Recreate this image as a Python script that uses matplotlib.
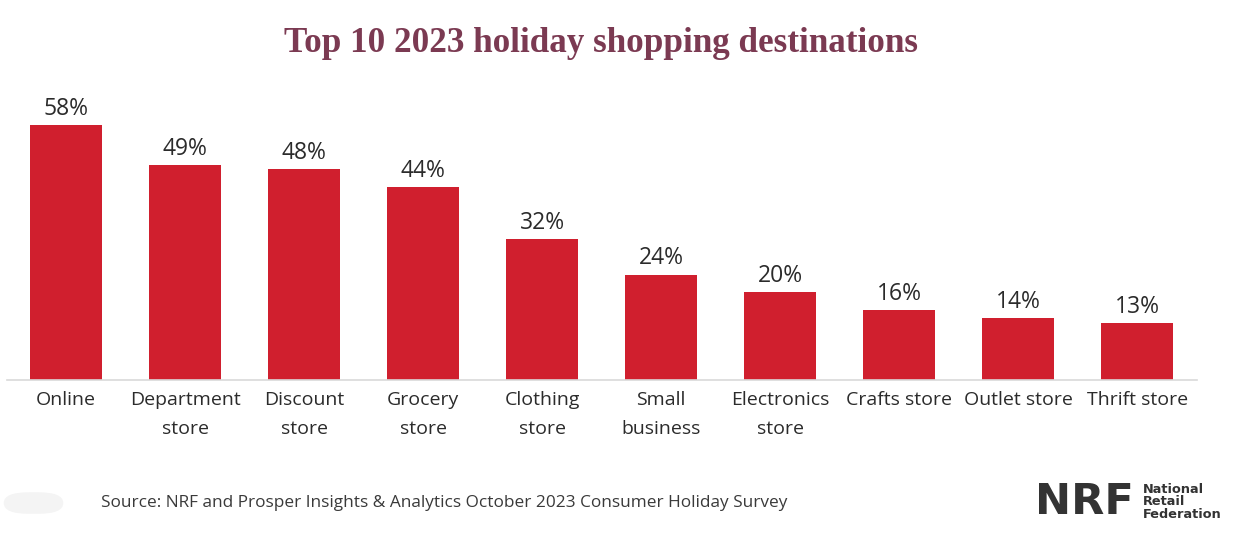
import matplotlib.pyplot as plt
from matplotlib.patches import FancyBboxPatch

categories = ["Online", "Department\nstore", "Discount\nstore", "Grocery\nstore",
              "Clothing\nstore", "Small\nbusiness", "Electronics\nstore",
              "Crafts store", "Outlet store", "Thrift store"]
shares = [58, 49, 48, 44, 32, 24, 20, 16, 14, 13]

bar_color = "#d01f2e"
text_color = "#2b2b2b"

fig = plt.figure(figsize=(12.41, 5.38), dpi=100)
fig.patch.set_facecolor("white")

ax = fig.add_axes([0.00524, 0.2937, 0.959, 0.539])
x = list(range(len(categories)))
bars = ax.bar(x, shares, width=0.605, color=bar_color, zorder=2)
ax.set_xlim(-0.5, len(categories) - 0.5)
ax.set_ylim(0, 66)

for b, v in zip(bars, shares):
    ax.annotate(f"{v}%", (b.get_x() + b.get_width() / 2, v),
                xytext=(0, 3), textcoords="offset points",
                ha="center", va="bottom", fontsize=16.5, color=text_color,
                family="Open Sans")

ax.set_xticks(x)
ax.set_xticklabels(categories, fontsize=14, color=text_color, family="Open Sans",
                   linespacing=1.75)
ax.tick_params(axis="x", length=0, pad=8)
ax.set_yticks([])
for s in ["top", "right", "left"]:
    ax.spines[s].set_visible(False)
ax.spines["bottom"].set_color("#d9d9d9")
ax.spines["bottom"].set_linewidth(1.2)

fig.text(0.484, 0.92, "Top 10 2023 holiday shopping destinations",
         ha="center", va="center", fontsize=25.3, fontweight="bold",
         color="#7b3a52", family="Liberation Serif")

fig.text(0.081, 0.065, "Source: NRF and Prosper Insights & Analytics October 2023 Consumer Holiday Survey",
         ha="left", va="center", fontsize=12.4, color="#3a3a3a", family="Open Sans")

# faint share button
fig.patches.append(FancyBboxPatch((0.003, 0.045), 0.048, 0.04,
                                  boxstyle="round,pad=0,rounding_size=0.02",
                                  transform=fig.transFigure, facecolor="#f4f4f4",
                                  edgecolor="none"))

# NRF logo
fig.text(0.834, 0.067, "NRF", ha="left", va="center", fontsize=31,
         fontweight="black", color="#333333", family="DejaVu Sans")
fig.text(0.921, 0.067, "National\nRetail\nFederation", ha="left", va="center",
         fontsize=9.3, fontweight="bold", color="#333333", family="DejaVu Sans",
         linespacing=0.95)

fig.savefig("out.png", dpi=100)
